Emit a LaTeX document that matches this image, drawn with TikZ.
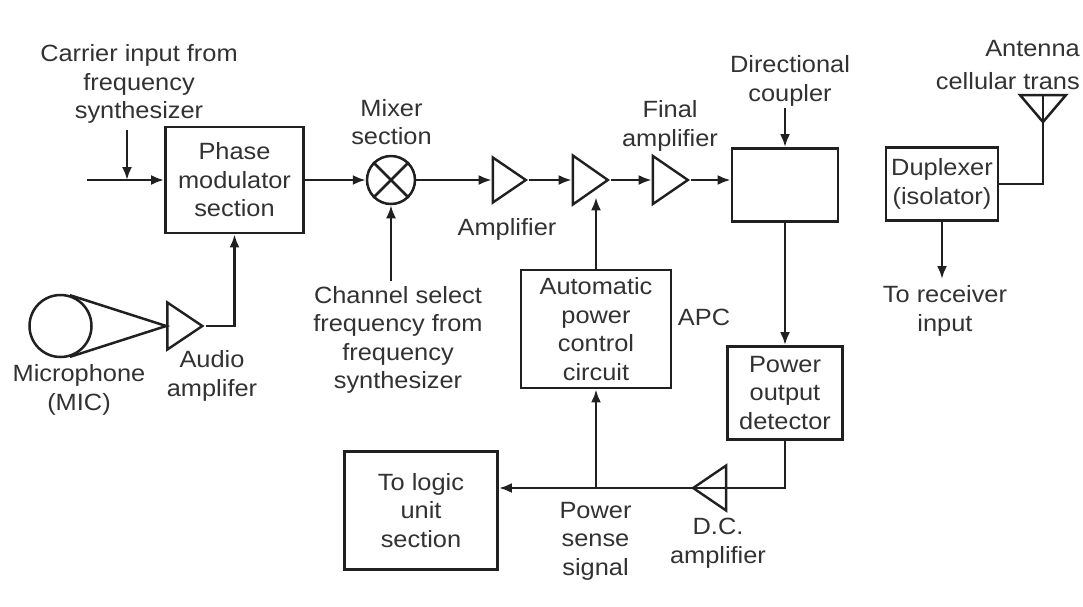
\documentclass[tikz,border=0pt]{standalone}
\usepackage{fontspec}
\setmainfont{Liberation Sans}[FakeStretch=1.08]
\usetikzlibrary{arrows.meta,shapes.geometric}
\definecolor{ink}{RGB}{32,32,32}
\definecolor{txt}{RGB}{50,50,50}
\tikzset{
  lbl/.style={font=\fontsize{23.5}{28.5}\selectfont, text=txt, align=center, inner sep=0pt},
  blk/.style={lbl, draw=ink, line width=2.8pt},
  amp/.style={isosceles triangle, isosceles triangle stretches, draw=ink, line width=2.4pt, inner sep=0pt},
  conn/.style={draw=ink, line width=2.5pt},
  arr/.style={conn, -{Latex[length=13pt,width=10pt]}}
}
\begin{document}
\begin{tikzpicture}[x=1pt,y=-1pt]
\useasboundingbox (0,0) rectangle (1083,606);
\fill[white] (0,0) rectangle (1083,606);

% blocks
\node[blk, minimum width=138pt, minimum height=106pt] (pm) at (234.5,180) {Phase\\modulator\\section};
\node[circle, draw=ink, line width=2.5pt, minimum size=48pt, inner sep=0pt] (mix) at (391,180) {};
\node[amp, minimum height=33pt, minimum width=45pt, anchor=apex] (amp1) at (529,180) {};
\node[amp, minimum height=35pt, minimum width=49pt, anchor=apex] (amp2) at (611,180) {};
\node[amp, minimum height=35pt, minimum width=48pt, anchor=apex] (famp) at (691,180) {};
\node[blk, minimum width=106pt, minimum height=73pt] (dc) at (785,185) {};
\node[blk, minimum width=112pt, minimum height=73pt] (dup) at (942,184) {Duplexer\\(isolator)};
\node[blk, minimum width=150pt, minimum height=118pt] (apc) at (596,329) {Automatic\\power\\control\\circuit};
\node[blk, minimum width=115pt, minimum height=93pt] (pod) at (785,393) {Power\\output\\detector};
\node[amp, shape border rotate=180, minimum height=33pt, minimum width=45pt, anchor=apex] (dcamp) at (690,488) {};
\node[blk, minimum width=153pt, minimum height=118pt] (logic) at (421,510.5) {To logic\\unit\\section};
\node[amp, minimum height=35pt, minimum width=47pt, anchor=apex] (aamp) at (205.5,326) {};
\node[circle, draw=ink, line width=2.5pt, minimum size=62pt, inner sep=0pt] (mic) at (60.5,326) {};

% labels
\node[lbl] (carrier) at (139,84) {Carrier input from\\frequency\\synthesizer};
\node[lbl] (mixlbl) at (391.5,122) {Mixer\\section};
\node[lbl] (amplbl) at (507,229) {Amplifier};
\node[lbl] (finlbl) at (670,126) {Final\\amplifier};
\node[lbl] (dclbl) at (790,81) {Directional\\coupler};
\node[lbl, anchor=east] (antlbl1) at (1080,49) {Antenna};
\node[lbl, anchor=east] (antlbl2) at (1080,81) {cellular trans};
\node[lbl] (rxlbl) at (945,311) {To receiver\\input};
\node[lbl] (chan) at (398,340) {Channel select\\frequency from\\frequency\\synthesizer};
\node[lbl] (apclbl) at (704,317) {APC};
\node[lbl] (miclbl) at (79,390) {Microphone\\(MIC)};
\node[lbl] (audlbl) at (212,376) {Audio\\amplifer};
\node[lbl] (pslbl) at (595.5,541) {Power\\sense\\signal};
\node[lbl] (dcalbl) at (718,543) {D.C.\\amplifier};

% coordinates
\coordinate (cin) at (87,180);
\coordinate (ctop) at (127,130);
\coordinate (cbot) at (127,180);
\coordinate (dctop) at (785,108);
\coordinate (chtop) at (391,281);
\coordinate (rx) at (942,279);
\coordinate (ant) at (1043,95);

% connectors
\draw[arr] (cin) -- (pm.west);
\draw[arr] (ctop) -- (cbot);
\draw[arr] (pm.east) -- (mix.west);
\draw[conn] (mix.45) -- (mix.225) (mix.135) -- (mix.-45);
\draw[arr] (mix.east) -- (amp1.west);
\draw[arr] (amp1.apex) -- (amp2.west);
\draw[arr] (amp2.apex) -- (famp.west);
\draw[arr] (famp.apex) -- (famp.apex -| dc.west);
\draw[arr] (dctop) -- (dc.north);
\draw[arr] (dc.south) -- (pod.north);
\draw[conn] (pod.south) |- (dcamp.west);
\draw[arr] (dcamp.apex) -- (dcamp.apex -| logic.east);
\coordinate (j) at (apc.south |- dcamp.apex);
\draw[arr] (j) -- (apc.south);
\draw[arr] (apc.north) -- (amp2.south -| apc.north);
\draw[arr] (chtop) -- (mix.south);
\draw[arr] (aamp.apex) -| (pm.south);
\draw[conn] (mic.73.6) -- (aamp.west) -- (mic.-73.6);
\draw[arr] (dup.south) -- (rx);
\draw[conn] (dup.east) -| (ant);
\draw[conn, line join=miter] (1020,95) -- (1066,95) -- (1043,122) -- cycle;
\end{tikzpicture}
\end{document}
